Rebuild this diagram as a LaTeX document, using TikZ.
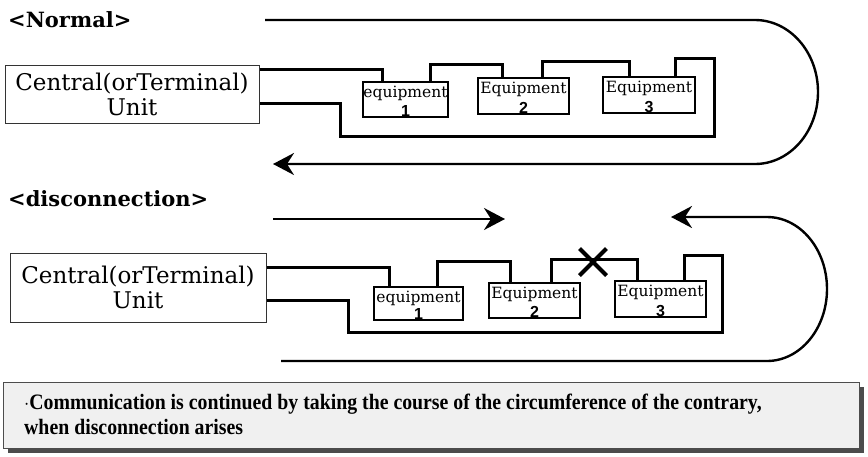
\documentclass[tikz,border=0pt]{standalone}
\usepackage{fontspec}
\setmainfont{DejaVu Serif}
\newfontfamily\notefont{Liberation Serif}
\newfontfamily\numfont{Liberation Sans}
\usetikzlibrary{arrows.meta,calc}
\begin{document}
\begin{tikzpicture}[x=1pt,y=1pt,
  wire/.style={line width=2.6pt},
  loopline/.style={line width=2.4pt},
  tip/.style={-{Stealth[length=21pt,width=22pt,inset=7pt]}},
  eqbox/.style={draw, line width=1.3pt, inner sep=0, fill=white},
  eqtext/.style={font=\fontsize{15.5}{15.5}\selectfont, inner sep=0, anchor=base},
  numtext/.style={font=\numfont\bfseries\fontsize{16}{16}\selectfont, inner sep=0, anchor=base},
  cubox/.style={draw=black!80, line width=1pt, align=center, inner sep=0, fill=white,
    font=\fontsize{23}{25}\selectfont},
  title/.style={font=\bfseries\fontsize{21}{21}\selectfont, anchor=base west, inner sep=0},
  notetext/.style={font=\notefont\bfseries\fontsize{22}{22}\selectfont, anchor=base west, inner sep=0}
]
\useasboundingbox (0,0) rectangle (868,-456);

% ---------------- Normal ----------------
\node[title] (t1) at (8,-27) {<Normal>};

\coordinate (l1s) at (265,-20);
\coordinate (l1e) at (273,-164);
\draw[loopline,tip] (l1s) -- (755,-20) arc (90:-90:63 and 72) -- (l1e);

\node[cubox, minimum width=254pt, minimum height=58pt] (cu1) at (132,-94) {Central(orTerminal)\\Unit};
\node[eqbox, minimum width=85pt, minimum height=35pt] (e1) at (405.5,-99.5) {};
\node[eqbox, minimum width=91pt, minimum height=36pt] (e2) at (523.5,-96) {};
\node[eqbox, minimum width=92pt, minimum height=36pt] (e3) at (649,-95) {};

\draw[wire] ($(cu1.north east)+(0,-5)$) -| ($(e1.north west)+(20,0)$);
\draw[wire] ($(e1.north east)+(-18,0)$) -- ++(0,17) -| ($(e2.north west)+(25,0)$);
\draw[wire] ($(e2.north west)+(65,0)$) -- ++(0,16) -| ($(e3.north west)+(27,0)$);
\draw[wire] ($(e3.north west)+(73,0)$) -- ++(0,18) -- ++(39,0) -- ++(0,-78)
  -| ($(cu1.south east)+(81,20)$) -- ($(cu1.south east)+(0,20)$);

\node[eqtext] (e1t) at ($(e1.north)+(0,-16)$) {equipment};
\node[numtext] (e1n) at ($(e1.south)+(0,1)$) {1};
\node[eqtext] (e2t) at ($(e2.north)+(0,-16)$) {Equipment};
\node[numtext] (e2n) at ($(e2.south)+(0,1)$) {2};
\node[eqtext] (e3t) at ($(e3.north)+(0,-16)$) {Equipment};
\node[numtext] (e3n) at ($(e3.south)+(0,1)$) {3};

% ---------------- disconnection ----------------
\node[title] (t2) at (8,-206) {<disconnection>};

\coordinate (a1s) at (273,-219);
\coordinate (a1e) at (505,-219);
\draw[loopline,tip] (a1s) -- (a1e);
\coordinate (l2s) at (281,-361);
\coordinate (l2e) at (671,-217);
\draw[loopline,tip] (l2s) -- (767,-361) arc (-90:90:60 and 72) -- (l2e);

\node[cubox, minimum width=256pt, minimum height=69pt] (cu2) at (138,-287.5) {Central(orTerminal)\\Unit};
\node[eqbox, minimum width=89pt, minimum height=33pt] (f1) at (418.5,-303.5) {};
\node[eqbox, minimum width=91pt, minimum height=35pt] (f2) at (534.5,-300.5) {};
\node[eqbox, minimum width=91pt, minimum height=36pt] (f3) at (660.5,-299) {};

\draw[wire] ($(cu2.north east)+(0,-15)$) -| ($(f1.north west)+(16,0)$);
\draw[wire] ($(f1.north west)+(64,0)$) -- ++(0,25) -| ($(f2.north west)+(22,0)$);
\draw[wire] ($(f2.north west)+(63,0)$) -- ++(0,23) -| ($(f3.north west)+(23,0)$);
\draw[wire] ($(f3.north west)+(70,0)$) -- ++(0,25) -- ++(38,0) -- ++(0,-77)
  -| ($(cu2.south east)+(82,22)$) -- ($(cu2.south east)+(0,22)$);

\coordinate (brk) at (593,-262);
\draw[line width=4pt] ($(brk)+(-13.5,-13.5)$) -- ($(brk)+(13.5,13.5)$)
  ($(brk)+(-13.5,13.5)$) -- ($(brk)+(13.5,-13.5)$);

\node[eqtext] (f1t) at ($(f1.north)+(0,-16)$) {equipment};
\node[numtext] (f1n) at ($(f1.south)+(0,1)$) {1};
\node[eqtext] (f2t) at ($(f2.north)+(0,-16)$) {Equipment};
\node[numtext] (f2n) at ($(f2.south)+(0,1)$) {2};
\node[eqtext] (f3t) at ($(f3.north)+(0,-16)$) {Equipment};
\node[numtext] (f3n) at ($(f3.south)+(0,1)$) {3};

% ---------------- note ----------------
\fill[black!70] (8,-387) rectangle (864,-453);
\draw[black!70, line width=0.8pt, fill=gray!12] (3,-382) rectangle (859,-448);
\node[notetext] (n1) at (24,-409) {\scalebox{0.9}[1]{$\cdot$Communication is continued by taking the course of the circumference of the contrary,}};
\node[notetext] (n2) at (24,-434) {\scalebox{0.9}[1]{when disconnection arises}};
\end{tikzpicture}
\end{document}
